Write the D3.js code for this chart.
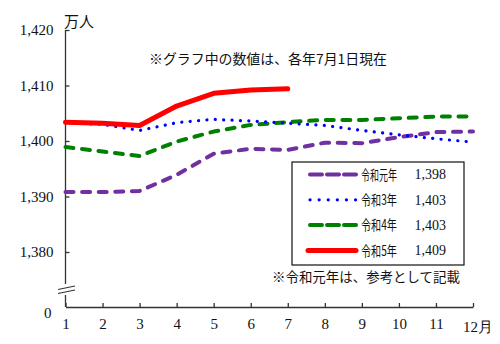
<!DOCTYPE html>
<meta charset="utf-8">
<style>
body { margin: 0; background: #fff; }
svg { display: block; }
.axis path, .axis line { stroke: #333; stroke-width: 1.3px; }
.axis text { font-family: "Liberation Serif", serif; font-size: 15px; fill: #111; }
.jp { font-family: "Noto Sans CJK JP", sans-serif; fill: #111; }
.num { font-family: "Liberation Serif", serif; fill: #111; }
.line { fill: none; stroke-linejoin: round; }
</style>
<body>
<script src="https://d3js.org/d3.v7.min.js"></script>
<script>

// months 1..12
var months = [1, 2, 3, 4, 5, 6, 7, 8, 9, 10, 11, 12];
var yTicks = [1380, 1390, 1400, 1410, 1420];

// population (万人), one array per year
var reiwa1 = [1390.8, 1390.8, 1391.0, 1393.9, 1397.7, 1398.6, 1398.4, 1399.7, 1399.6, 1400.7, 1401.6, 1401.7];
var reiwa3 = [1403.3, 1403.0, 1401.9, 1403.3, 1403.9, 1403.6, 1403.2, 1402.8, 1401.9, 1401.1, 1400.4, 1399.8];
var reiwa4 = [1398.9, 1398.1, 1397.3, 1399.9, 1401.7, 1402.9, 1403.4, 1403.8, 1403.8, 1404.1, 1404.4, 1404.4];
var reiwa5 = [1403.4, 1403.2, 1402.8, 1406.3, 1408.6, 1409.2, 1409.4];

var seriesNames = ["令和元年", "令和3年", "令和4年", "令和5年"];
var legendValues = ["1,398", "1,403", "1,403", "1,409"];

var series = [
  {name: seriesNames[0], values: reiwa1, color: "#7030a0", width: 4, dash: "8 8.6", keyDash: "12 5", label: legendValues[0]},
  {name: seriesNames[1], values: reiwa3, color: "#0000ff", width: 3.2, dash: "0.1 8.3", keyDash: "0.1 9", label: legendValues[1]},
  {name: seriesNames[2], values: reiwa4, color: "#008000", width: 4, dash: "8 8.6", keyDash: "12 5", label: legendValues[2]},
  {name: seriesNames[3], values: reiwa5, color: "#ff0000", width: 5, dash: null, keyDash: null, label: legendValues[3]}
];
// draw order: purple, green, blue, red on top
var drawOrder = [0, 2, 1, 3];

var W = 500, H = 344;
var svg = d3.select("body").append("svg")
    .attr("width", W)
    .attr("height", H);

var x = d3.scaleLinear().domain([1, 12]).range([65.5, 473]);
var y = d3.scaleLinear().domain([1380, 1420]).range([252, 30]);

var axisX = 65.5, baseY = 307, breakTop = 284, breakBottom = 295;

// x axis
svg.append("g")
    .attr("class", "axis")
    .attr("transform", "translate(0," + baseY + ")")
    .call(d3.axisBottom(x).tickValues(months).tickSize(-4).tickSizeOuter(0).tickPadding(11)
      .tickFormat(function(d) { return d === 12 ? "12月" : d; }))
  .selectAll("text")
    .filter(function(d) { return d === 12; })
    .attr("dy", "0.95em")
    .attr("dx", "0.3em");

// y axis, domain line drawn by hand because of the break
var gy = svg.append("g")
    .attr("class", "axis")
    .attr("transform", "translate(" + axisX + ",0)")
    .call(d3.axisLeft(y).tickValues(yTicks).tickSize(-4).tickPadding(12).tickFormat(d3.format(",")));
gy.select(".domain").remove();

svg.append("line")
    .attr("x1", axisX).attr("x2", axisX)
    .attr("y1", y(1420)).attr("y2", breakTop)
    .attr("stroke", "#333").attr("stroke-width", 1.3);
svg.append("line")
    .attr("x1", axisX).attr("x2", axisX)
    .attr("y1", breakBottom).attr("y2", baseY)
    .attr("stroke", "#333").attr("stroke-width", 1.3);

// break marks
[0, 4].forEach(function(o) {
  svg.append("line")
      .attr("x1", 58).attr("y1", 289.5 + o)
      .attr("x2", 75).attr("y2", 286 + o)
      .attr("stroke", "#333").attr("stroke-width", 1.2);
});

// zero label under the break
svg.append("text")
    .attr("class", "num")
    .attr("x", axisX - 14).attr("y", 313)
    .attr("dy", "0.35em")
    .attr("text-anchor", "end")
    .style("font-size", "15px")
    .text("0");

// unit
svg.append("text")
    .attr("class", "jp")
    .attr("x", 64).attr("y", 21)
    .attr("dy", "0.38em")
    .style("font-size", "15px")
    .text("万人");

// note at top
svg.append("text")
    .attr("class", "jp")
    .attr("x", 268).attr("y", 59)
    .attr("dy", "0.38em")
    .attr("text-anchor", "middle")
    .style("font-size", "13.5px")
    .attr("textLength", 238)
    .attr("lengthAdjust", "spacingAndGlyphs")
    .text("※グラフ中の数値は、各年7月1日現在");

// lines
var line = d3.line()
    .x(function(d, i) { return x(months[i]); })
    .y(function(d) { return y(d); });

drawOrder.forEach(function(k) {
  var s = series[k];
  svg.append("path")
      .datum(s.values)
      .attr("class", "line")
      .attr("d", line)
      .attr("stroke", s.color)
      .attr("stroke-width", s.width)
      .attr("stroke-linecap", "round")
      .attr("stroke-dasharray", s.dash);
});

// legend
var lg = svg.append("g").attr("transform", "translate(292,162)");
lg.append("rect")
    .attr("width", 172).attr("height", 103)
    .attr("fill", "#fff")
    .attr("stroke", "#111")
    .attr("stroke-width", 1.2);

var rows = lg.selectAll(".row")
    .data(series)
  .enter().append("g")
    .attr("class", "row")
    .attr("transform", function(d, i) { return "translate(0," + (12.5 + i * 25.3) + ")"; });

rows.append("line")
    .attr("x1", function(d) { return d.dash ? 18 : 16; })
    .attr("x2", 64)
    .attr("stroke", function(d) { return d.color; })
    .attr("stroke-width", function(d) { return d.width; })
    .attr("stroke-linecap", "round")
    .attr("stroke-dasharray", function(d) { return d.keyDash; });

rows.append("text")
    .attr("class", "jp")
    .attr("x", 69)
    .attr("dy", "0.38em")
    .style("font-size", "14px")
    .attr("textLength", 36)
    .attr("lengthAdjust", "spacingAndGlyphs")
    .text(function(d) { return d.name; });

rows.append("text")
    .attr("class", "num")
    .attr("x", 154)
    .attr("dy", "0.35em")
    .attr("text-anchor", "end")
    .style("font-size", "14px")
    .text(function(d) { return d.label; });

// footnote under the legend
svg.append("text")
    .attr("class", "jp")
    .attr("x", 366).attr("y", 277)
    .attr("dy", "0.38em")
    .attr("text-anchor", "middle")
    .style("font-size", "13.5px")
    .attr("textLength", 188)
    .attr("lengthAdjust", "spacingAndGlyphs")
    .text("※令和元年は、参考として記載");

</script>
</body>
